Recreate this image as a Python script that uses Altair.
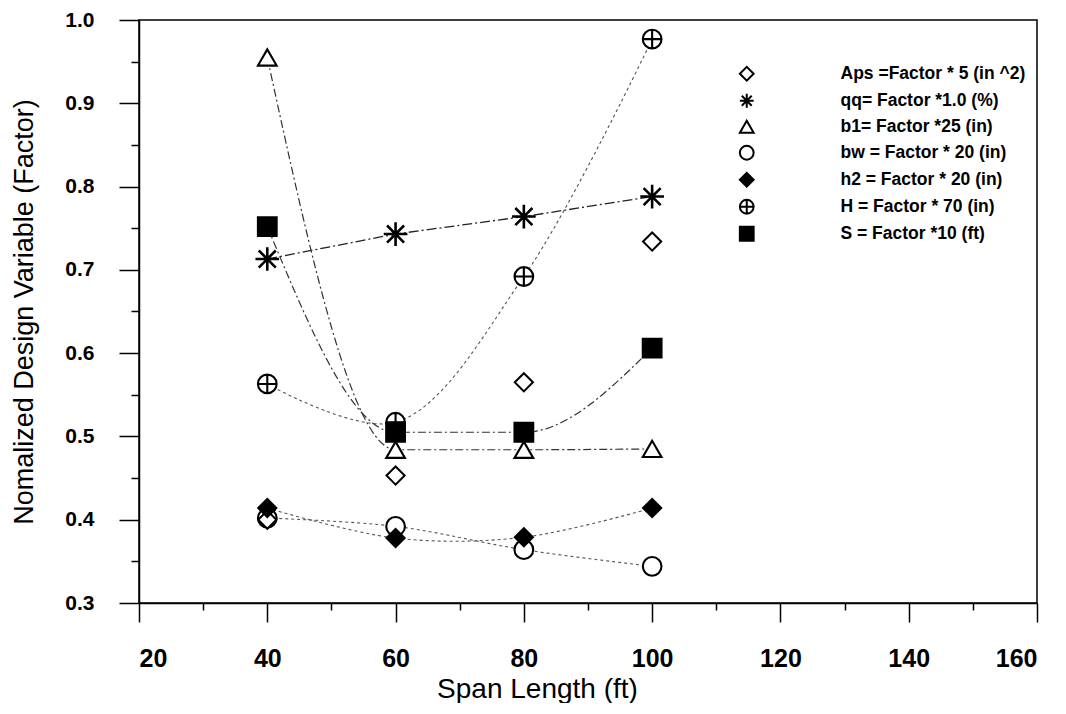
import altair as alt
import pandas as pd

# ---- data ----
span = [40, 60, 80, 100]
series_labels = [
    "Aps =Factor * 5 (in ^2)",
    "qq= Factor *1.0 (%)",
    "b1= Factor *25 (in)",
    "bw = Factor * 20 (in)",
    "h2 = Factor * 20 (in)",
    "H = Factor * 70 (in)",
    "S = Factor *10 (ft)",
]
aps = [0.400, 0.453, 0.565, 0.734]
qq = [0.713, 0.743, 0.764, 0.788]
b1 = [0.955, 0.484, 0.484, 0.485]
bw = [0.402, 0.392, 0.364, 0.344]
h2 = [0.414, 0.378, 0.379, 0.414]
hh = [0.563, 0.517, 0.692, 0.977]
ss = [0.752, 0.505, 0.505, 0.606]

x_ticks = [20, 30, 40, 50, 60, 70, 80, 90, 100, 110, 120, 130, 140, 150, 160]
y_ticks = [0.30, 0.35, 0.40, 0.45, 0.50, 0.55, 0.60, 0.65, 0.70, 0.75, 0.80, 0.85, 0.90, 0.95, 1.00]

all_values = [aps, qq, b1, bw, h2, hh, ss]
rows = []
for lab, vals in zip(series_labels, all_values):
    for xv, yv in zip(span, vals):
        rows.append({"span": xv, "value": yv, "series": lab})
df = pd.DataFrame(rows)

straight_series = [series_labels[1]]
steep_series = [series_labels[2], series_labels[6]]
curved_series = [series_labels[3], series_labels[4], series_labels[5]]

diamond_series = [series_labels[0], series_labels[4]]
star_series = [series_labels[1]]
other_series = [series_labels[2], series_labels[3], series_labels[5], series_labels[6]]

STAR = "M-1,0L1,0M0,-1L0,1M-0.72,-0.72L0.72,0.72M-0.72,0.72L0.72,-0.72"
CPLUS = "M-1,0A1,1,0,1,1,1,0A1,1,0,1,1,-1,0ZM-1,0L1,0M0,-1L0,1"
shape_range = ["diamond", STAR, "triangle-up", "circle", "diamond", CPLUS, "square"]
fill_range = ["white", "white", "white", "white", "black", "white", "black"]
stroke_range = ["black", "black", "black", "black", "black", "black", "black"]

FONT = "Liberation Sans"

y_major_test = "abs(datum.value * 10 - round(datum.value * 10)) < 0.001"

x_axis = alt.Axis(
    values=x_ticks,
    title="Span Length (ft)",
    labelExpr="datum.value % 20 === 0 ? datum.label : ''",
    tickSize={"condition": {"test": "datum.value % 20 === 0", "value": 19}, "value": 7},
    labelPadding=24,
    labelFont=FONT, labelFontSize=25, labelFontWeight="bold", labelColor="black",
    titleFont=FONT, titleFontSize=28, titleFontWeight="normal", titleColor="black",
    titleX=398, titleY=94, titleBaseline="alphabetic", titleAlign="center",
    grid=False, domainColor="black", domainWidth=1.5, tickColor="black", tickWidth=1.5,
)
y_axis = alt.Axis(
    values=y_ticks,
    title="Nomalized Design Variable (Factor)",
    labelExpr=y_major_test + " ? format(datum.value, '.1f') : ''",
    tickSize={"condition": {"test": y_major_test, "value": 20}, "value": 8},
    labelPadding=25,
    labelFont=FONT, labelFontSize=21, labelFontWeight="bold", labelColor="black",
    titleFont=FONT, titleFontSize=27, titleFontWeight="normal", titleColor="black",
    titleX=-115, titleAngle=270, titleBaseline="middle", titleAlign="center",
    grid=False, domainColor="black", domainWidth=1.5, tickColor="black", tickWidth=1.5,
)

X = alt.X("span:Q", scale=alt.Scale(domain=[20, 160], nice=False, zero=False), axis=x_axis)
Y = alt.Y("value:Q", scale=alt.Scale(domain=[0.3, 1.0], nice=False, zero=False), axis=y_axis)

base = alt.Chart(df)

line_straight = base.transform_filter(
    alt.FieldOneOfPredicate(field="series", oneOf=straight_series)
).mark_line(interpolate="linear", color="#222222", strokeWidth=1.3, strokeDash=[10, 3, 2, 3]).encode(
    x=X, y=Y, detail="series:N"
)
line_steep = base.transform_filter(
    alt.FieldOneOfPredicate(field="series", oneOf=steep_series)
).mark_line(interpolate="monotone", color="#333333", strokeWidth=1.2, strokeDash=[8, 3, 2, 3]).encode(
    x=X, y=Y, detail="series:N"
)
line_curved = base.transform_filter(
    alt.FieldOneOfPredicate(field="series", oneOf=curved_series)
).mark_line(interpolate="catmull-rom", color="#555555", strokeWidth=1.1, strokeDash=[3, 3]).encode(
    x=X, y=Y, detail="series:N"
)

SHAPE = alt.Shape("series:N", scale=alt.Scale(domain=series_labels, range=shape_range), title=None)
FILL = alt.Fill("series:N", scale=alt.Scale(domain=series_labels, range=fill_range), title=None)
STROKE = alt.Stroke("series:N", scale=alt.Scale(domain=series_labels, range=stroke_range), title=None)


def point_layer(names, size, sw):
    return base.transform_filter(
        alt.FieldOneOfPredicate(field="series", oneOf=names)
    ).mark_point(strokeWidth=sw, size=size, opacity=1).encode(
        x=X, y=Y, shape=SHAPE, fill=FILL, stroke=STROKE
    )


pts_diamond = point_layer(diamond_series, 330, 2)
pts_star = point_layer(star_series, 560, 2.6)
pts_other = point_layer(other_series, 350, 2.1)

chart = alt.layer(line_straight, line_steep, line_curved, pts_other, pts_diamond, pts_star).properties(
    width=898,
    height=583,
    autosize=alt.AutoSizeParams(type="none"),
    padding={"left": 131, "top": 12, "right": 20, "bottom": 100},
).configure_view(
    stroke="black", strokeWidth=1.5
).configure_legend(
    orient="none", legendX=599, legendY=45, padding=0,
    symbolSize=190, symbolStrokeWidth=2, symbolStrokeColor="black",
    labelFont=FONT, labelFontSize=17.5, labelFontWeight="bold", labelColor="black",
    labelOffset=85, labelLimit=400, rowPadding=4,
)

chart.save("out.html", embed_options={"renderer": "svg", "actions": False})
